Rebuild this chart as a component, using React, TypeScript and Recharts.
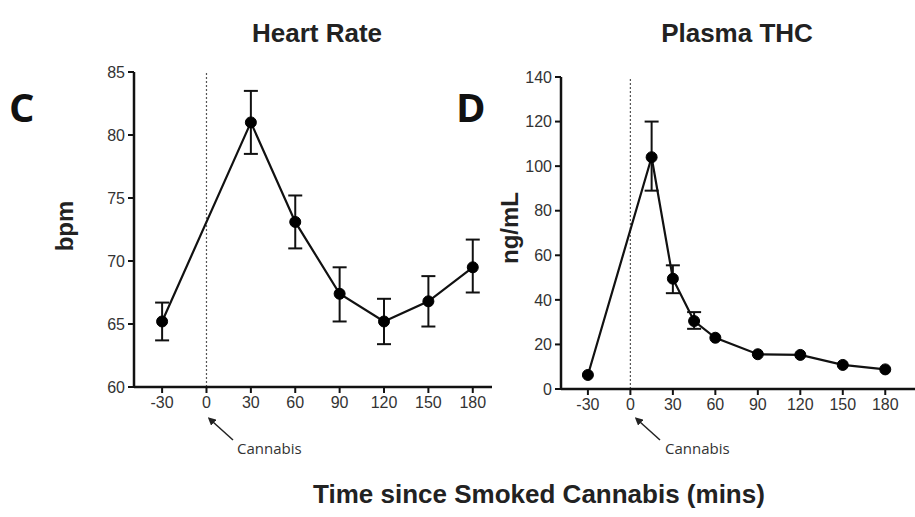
import React from "react";
import { LineChart, Line, XAxis, YAxis, ErrorBar, ReferenceLine } from "recharts";

// Heart rate (panel C)
const hrTimes = [-30, 30, 60, 90, 120, 150, 180];
const hrMean = [65.2, 81.0, 73.1, 67.4, 65.2, 66.8, 69.5];
const hrLow = [63.7, 78.5, 71.0, 65.2, 63.4, 64.8, 67.5];
const hrHigh = [66.7, 83.5, 75.2, 69.5, 67.0, 68.8, 71.7];
const hrTicksY = [60, 65, 70, 75, 80, 85];

// Plasma THC (panel D)
const thcTimes = [-30, 15, 30, 45, 60, 90, 120, 150, 180];
const thcMean = [6.3, 104, 49.5, 30.5, 23, 15.6, 15.3, 10.8, 8.8];
const thcLow = [6.3, 89, 43, 27, 23, 15.6, 15.3, 10.8, 8.8];
const thcHigh = [6.3, 120, 55.5, 34.5, 23, 15.6, 15.3, 10.8, 8.8];
const thcTicksY = [0, 20, 40, 60, 80, 100, 120, 140];

const timeTicks = [-30, 0, 30, 60, 90, 120, 150, 180];

const hrData = hrTimes.map((t, i) => ({
  t,
  v: hrMean[i],
  err: hrHigh[i] > hrLow[i] ? [hrMean[i] - hrLow[i], hrHigh[i] - hrMean[i]] : undefined,
}));
const thcData = thcTimes.map((t, i) => ({
  t,
  v: thcMean[i],
  err: thcHigh[i] > thcLow[i] ? [thcMean[i] - thcLow[i], thcHigh[i] - thcMean[i]] : undefined,
}));

const FONT = "'Liberation Sans', Arial, sans-serif";
const tickStyle = { fontSize: 16, fill: "#333", fontFamily: FONT };
const axisLine = { stroke: "#111", strokeWidth: 2.5 };
const tickLine = { stroke: "#111", strokeWidth: 2 };

export default function App() {
  return (
    <div style={{ position: "absolute", left: 0, top: 0, width: 915, height: 517, background: "#fff", overflow: "hidden" }}>
      <div style={{ position: "absolute", left: 0, top: 0 }}>
        <LineChart width={500} height={517} data={hrData} margin={{ top: 72, right: 8, bottom: 100, left: 74 }}>
          <XAxis
            dataKey="t"
            type="number"
            domain={[-49, 193]}
            ticks={timeTicks}
            allowDataOverflow
            tick={tickStyle}
            axisLine={axisLine}
            tickLine={tickLine}
            tickSize={6}
            tickMargin={4}
            height={30}
          />
          <YAxis
            type="number"
            domain={[60, 85]}
            ticks={hrTicksY}
            tick={tickStyle}
            axisLine={axisLine}
            tickLine={tickLine}
            tickSize={6}
            tickMargin={3}
            width={60}
          />
          <ReferenceLine x={0} stroke="#555" strokeWidth={1.2} strokeDasharray="2 2" />
          <Line
            dataKey="v"
            type="linear"
            stroke="#111"
            strokeWidth={2.2}
            dot={{ r: 5.5, fill: "#000", stroke: "#000", strokeWidth: 1 }}
            isAnimationActive={false}
          >
            <ErrorBar dataKey="err" direction="y" width={7} stroke="#111" strokeWidth={2} />
          </Line>
        </LineChart>
      </div>
      <div style={{ position: "absolute", left: 455, top: 0 }}>
        <LineChart width={460} height={517} data={thcData} margin={{ top: 77, right: 0, bottom: 98, left: 46 }}>
          <XAxis
            dataKey="t"
            type="number"
            domain={[-49, 201]}
            ticks={timeTicks}
            allowDataOverflow
            tick={tickStyle}
            axisLine={axisLine}
            tickLine={tickLine}
            tickSize={6}
            tickMargin={4}
            height={30}
          />
          <YAxis
            type="number"
            domain={[0, 140]}
            ticks={thcTicksY}
            tick={tickStyle}
            axisLine={axisLine}
            tickLine={tickLine}
            tickSize={6}
            tickMargin={3}
            width={60}
          />
          <ReferenceLine x={0} stroke="#555" strokeWidth={1.2} strokeDasharray="2 2" />
          <Line
            dataKey="v"
            type="linear"
            stroke="#111"
            strokeWidth={2.2}
            dot={{ r: 5.5, fill: "#000", stroke: "#000", strokeWidth: 1 }}
            isAnimationActive={false}
          >
            <ErrorBar dataKey="err" direction="y" width={7} stroke="#111" strokeWidth={2} />
          </Line>
        </LineChart>
      </div>
      <svg width={915} height={517} style={{ position: "absolute", left: 0, top: 0, pointerEvents: "none" }}>
        <defs>
          <marker id="ah" markerWidth="8" markerHeight="8" refX="1" refY="4" orient="auto-start-reverse" markerUnits="userSpaceOnUse">
            <path d="M0,0 L8,4 L0,8 z" fill="#222" />
          </marker>
        </defs>
        <text x={317} y={42} textAnchor="middle" fontFamily={FONT} fontWeight="bold" fontSize={26} fill="#222">Heart Rate</text>
        <text x={737} y={42} textAnchor="middle" fontFamily={FONT} fontWeight="bold" fontSize={26} fill="#222">Plasma THC</text>
        <text x={9} y={122} fontFamily="'Open Sans', sans-serif" fontWeight="bold" fontSize={40} fill="#111">C</text>
        <text x={456} y={122} fontFamily="'Open Sans', sans-serif" fontWeight="bold" fontSize={40} fill="#111">D</text>
        <text transform="translate(73,226) rotate(-90)" textAnchor="middle" fontFamily={FONT} fontWeight="bold" fontSize={24} fill="#222">bpm</text>
        <text transform="translate(518,228) rotate(-90)" textAnchor="middle" fontFamily={FONT} fontWeight="bold" fontSize={24} fill="#222">ng/mL</text>
        <text x={539} y={503} textAnchor="middle" fontFamily={FONT} fontWeight="bold" fontSize={26} fill="#222">Time since Smoked Cannabis (mins)</text>
        <line x1={233} y1={440} x2={213} y2={422} stroke="#222" strokeWidth={1.5} markerEnd="url(#ah)" />
        <text x={237} y={454} fontFamily="'Open Sans', sans-serif" fontSize={15} fill="#333">Cannabis</text>
        <line x1={660} y1={440} x2={640} y2={422} stroke="#222" strokeWidth={1.5} markerEnd="url(#ah)" />
        <text x={665} y={454} fontFamily="'Open Sans', sans-serif" fontSize={15} fill="#333">Cannabis</text>
      </svg>
    </div>
  );
}
